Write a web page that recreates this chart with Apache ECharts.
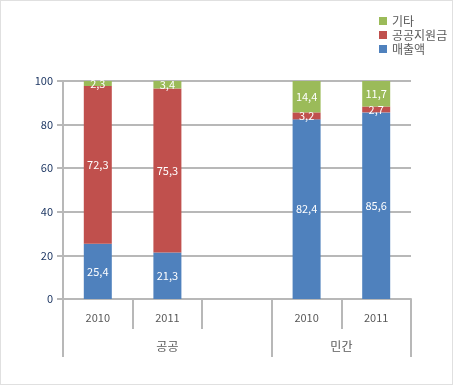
<!DOCTYPE html>
<html><head><meta charset="utf-8">
<script src="https://cdn.jsdelivr.net/npm/echarts@6/dist/echarts.min.js"></script>
<style>
html,body{margin:0;padding:0;background:#fff;}
#c{width:451px;height:383px;border:1px solid #e0e0e0;}
</style></head><body>
<div id="c"></div>
<script>
const years = ['2010', '2011', '', '2010', '2011'];
const groupLabels = ['', '', '', '공공', '', '', '', '', '민간', '', ''];
const groupTickIdx = [0, 6, 10];
const sales = [25.4, 21.3, null, 82.4, 85.6];
const grant = [72.3, 75.3, null, 3.2, 2.7];
const other = [2.3, 3.4, null, 14.4, 11.7];
const yTicks = [0, 20, 40, 60, 80, 100];

const FONT = '"Noto Sans CJK KR", "DejaVu Sans", sans-serif';
const fmt = p => p.value == null ? '' : p.value.toFixed(1).replace('.', ',');
const gridLine = {color: '#b8b8b8', width: 2};

const chart = echarts.init(document.getElementById('c'), null, {renderer: 'canvas'});
const lbl = {show: true, position: 'inside', color: '#fff', fontSize: 11, fontFamily: FONT, formatter: fmt};
chart.setOption({
  animation: false,
  textStyle: {fontFamily: FONT},
  legend: {
    orient: 'vertical', left: 373, top: 8, itemWidth: 8, itemHeight: 8, itemGap: 0,
    icon: 'rect', data: ['기타', '공공지원금', '매출액'],
    textStyle: {color: '#595959', fontSize: 12, lineHeight: 14, fontFamily: FONT, padding: [0, 0, 0, 0]}
  },
  grid: {left: 62, right: 41, top: 80, bottom: 85},
  yAxis: {
    type: 'value', min: yTicks[0], max: yTicks[yTicks.length - 1], interval: 20,
    axisLine: {show: true, lineStyle: gridLine},
    axisTick: {show: true, length: 6, lineStyle: gridLine},
    splitLine: {show: true, lineStyle: gridLine},
    axisLabel: {color: '#1f3864', fontSize: 11, margin: 10, fontFamily: FONT}
  },
  xAxis: [{
    type: 'category', data: years, position: 'bottom',
    axisLine: {show: true, lineStyle: gridLine},
    axisTick: {show: true, length: 30, lineStyle: gridLine},
    axisLabel: {color: '#595959', fontSize: 11, margin: 13, fontFamily: FONT}
  }, {
    type: 'category', data: groupLabels, position: 'bottom', boundaryGap: false,
    axisLine: {show: false},
    axisTick: {show: true, length: 58, lineStyle: gridLine,
      interval: (i) => groupTickIdx.indexOf(i) >= 0},
    axisLabel: {color: '#595959', fontSize: 12, margin: 41, fontFamily: FONT,
      interval: (i, v) => v !== ''}
  }],
  series: [
    {name: '매출액', type: 'bar', stack: 's', data: sales, barWidth: 28, itemStyle: {color: '#4f81bd'}, label: lbl},
    {name: '공공지원금', type: 'bar', stack: 's', data: grant, barWidth: 28, itemStyle: {color: '#c0504d'}, label: lbl},
    {name: '기타', type: 'bar', stack: 's', data: other, barWidth: 28, itemStyle: {color: '#9bbb59'}, label: lbl}
  ]
});
</script>
</body></html>
